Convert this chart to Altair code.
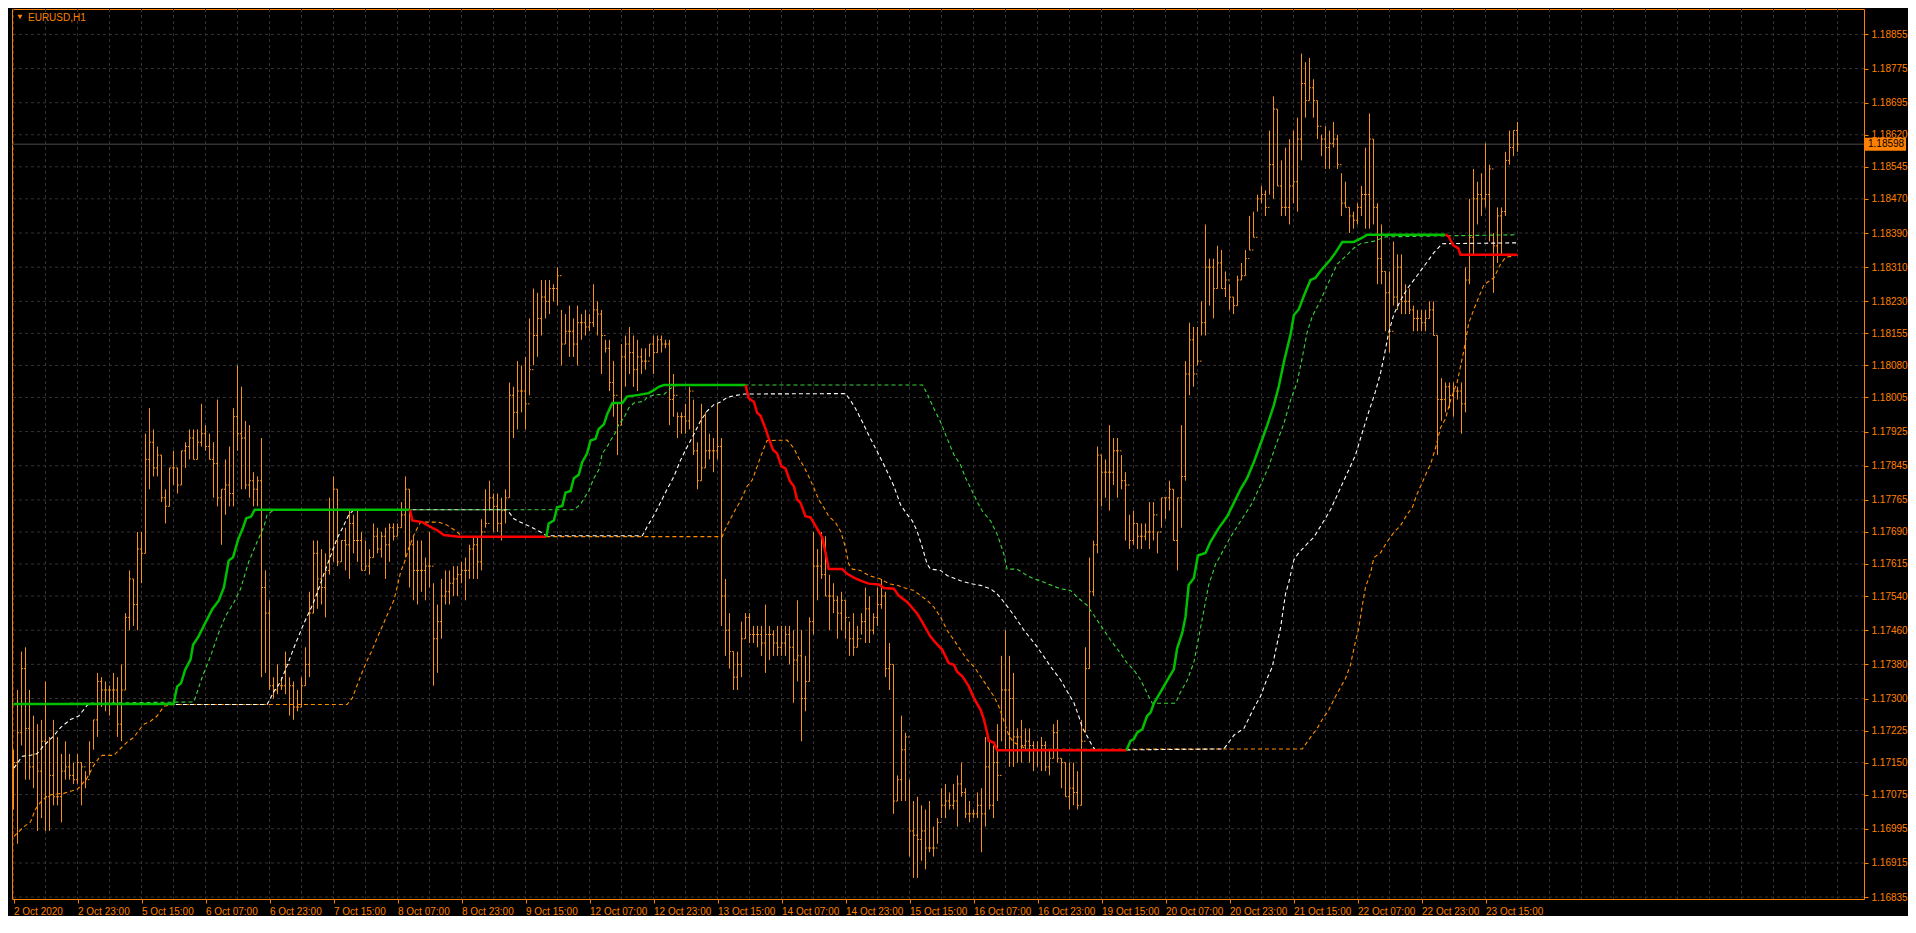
import json
import altair as alt
import pandas as pd

# ---------------- data ----------------
SYMBOL = "EURUSD,H1"
CURRENT_PRICE = 1.18598
FIRST_OPEN = 1.1712

HIGH = [
    1.1718, 1.1732, 1.1741, 1.1742, 1.1732, 1.1726, 1.1724, 1.1725, 1.1734, 1.1721,
    1.1725, 1.1721, 1.1717, 1.1720, 1.1717, 1.1715, 1.1717, 1.1715, 1.1713, 1.1720,
    1.1725, 1.1736, 1.1735, 1.1734, 1.1733, 1.1736, 1.1735, 1.1738, 1.1750, 1.1760,
    1.1758, 1.1769, 1.1769, 1.1792, 1.1798, 1.1793, 1.1789, 1.1787, 1.1779, 1.1784,
    1.1788, 1.1784, 1.1788, 1.1790, 1.1793, 1.1793, 1.1793, 1.1799, 1.1794, 1.1792,
    1.1790, 1.1800, 1.1779, 1.1786, 1.1789, 1.1798, 1.1808, 1.1803, 1.1795, 1.1794,
    1.1783, 1.1782, 1.1791, 1.1760, 1.1753, 1.1735, 1.1738, 1.1735, 1.1741, 1.1735,
    1.1734, 1.1732, 1.1735, 1.1742, 1.1755, 1.1767, 1.1767, 1.1765, 1.1764, 1.1777,
    1.1782, 1.1779, 1.1767, 1.1770, 1.1774, 1.1773, 1.1774, 1.1769, 1.1767, 1.1765,
    1.1771, 1.1770, 1.1769, 1.1770, 1.1771, 1.1771, 1.1771, 1.1776, 1.1782, 1.1779,
    1.1768, 1.1767, 1.1767, 1.1763, 1.1769, 1.1757, 1.1752, 1.1758, 1.1760, 1.1760,
    1.1761, 1.1761, 1.1762, 1.1763, 1.1766, 1.1768, 1.1768, 1.1772, 1.1779, 1.1781,
    1.1778, 1.1778, 1.1777, 1.1779, 1.1804, 1.1803, 1.1809, 1.1808, 1.1810, 1.1819,
    1.1826, 1.1825, 1.1828, 1.1828, 1.1828, 1.1827, 1.1831, 1.1821, 1.1820, 1.1822,
    1.1819, 1.1822, 1.1820, 1.1821, 1.1820, 1.1827, 1.1823, 1.1821, 1.1814, 1.1814,
    1.1809, 1.1799, 1.1813, 1.1815, 1.1817, 1.1815, 1.1814, 1.1812, 1.1812, 1.1813,
    1.1815, 1.1815, 1.1815, 1.1814, 1.1814, 1.1806, 1.1797, 1.1797, 1.1799, 1.1803,
    1.1800, 1.1790, 1.1799, 1.1797, 1.1792, 1.1791, 1.1799, 1.1791, 1.1758, 1.1750,
    1.1741, 1.1741, 1.1748, 1.1750, 1.1750, 1.1747, 1.1747, 1.1747, 1.1752, 1.1747,
    1.1746, 1.1747, 1.1747, 1.1747, 1.1747, 1.1746, 1.1753, 1.1746, 1.1740, 1.1749,
    1.1769, 1.1765, 1.1769, 1.1768, 1.1759, 1.1757, 1.1754, 1.1755, 1.1753, 1.1748,
    1.1750, 1.1747, 1.1750, 1.1756, 1.1754, 1.1750, 1.1756, 1.1758, 1.1755, 1.1743,
    1.1738, 1.1712, 1.1726, 1.1722, 1.1711, 1.1706, 1.1707, 1.1705, 1.1704, 1.1706,
    1.1700, 1.1702, 1.1709, 1.1710, 1.1708, 1.1710, 1.1712, 1.1715, 1.1709, 1.1706,
    1.1704, 1.1708, 1.1709, 1.1721, 1.1720, 1.1719, 1.1724, 1.1740, 1.1746, 1.1740,
    1.1736, 1.1723, 1.1725, 1.1723, 1.1723, 1.1720, 1.1720, 1.1721, 1.1720, 1.1718,
    1.1724, 1.1725, 1.1716, 1.1715, 1.1715, 1.1715, 1.1713, 1.1725, 1.1742, 1.1763,
    1.1767, 1.1789, 1.1787, 1.1786, 1.1794, 1.1791, 1.1791, 1.1787, 1.1783, 1.1773,
    1.1774, 1.1771, 1.1771, 1.1771, 1.1776, 1.1776, 1.1769, 1.1777, 1.1777, 1.1781,
    1.1779, 1.1777, 1.1794, 1.1809, 1.1818, 1.1817, 1.1817, 1.1823, 1.1841, 1.1833,
    1.1833, 1.1836, 1.1835, 1.1830, 1.1827, 1.1824, 1.1829, 1.1832, 1.1835, 1.1843,
    1.1844, 1.1848, 1.1850, 1.1849, 1.1863, 1.1871, 1.1868, 1.1856, 1.1859, 1.1861,
    1.1863, 1.1866, 1.1881, 1.1879, 1.1880, 1.1875, 1.1870, 1.1862, 1.1864, 1.1863,
    1.1865, 1.1862, 1.1853, 1.1851, 1.1845, 1.1844, 1.1846, 1.1850, 1.1859, 1.1867,
    1.1861, 1.1846, 1.1841, 1.1830, 1.1830, 1.1837, 1.1834, 1.1834, 1.1827, 1.1826,
    1.1822, 1.1821, 1.1821, 1.1821, 1.1823, 1.1823, 1.1815, 1.1805, 1.1804, 1.1804,
    1.1804, 1.1803, 1.1804, 1.1831, 1.1847, 1.1854, 1.1851, 1.1853, 1.1860, 1.1855,
    1.1839, 1.1845, 1.1845, 1.1858, 1.1863, 1.1863, 1.1865,
]

LOW = [
    1.1704, 1.1696, 1.1719, 1.1711, 1.1711, 1.1709, 1.1699, 1.1702, 1.1699, 1.1699,
    1.1705, 1.1705, 1.1701, 1.1711, 1.1711, 1.1710, 1.1710, 1.1705, 1.1709, 1.1712,
    1.1718, 1.1721, 1.1728, 1.1727, 1.1726, 1.1729, 1.1721, 1.1720, 1.1732, 1.1746,
    1.1747, 1.1746, 1.1757, 1.1764, 1.1779, 1.1782, 1.1782, 1.1776, 1.1771, 1.1775,
    1.1780, 1.1778, 1.1780, 1.1784, 1.1786, 1.1786, 1.1786, 1.1789, 1.1788, 1.1786,
    1.1777, 1.1775, 1.1766, 1.1773, 1.1775, 1.1775, 1.1788, 1.1779, 1.1779, 1.1777,
    1.1775, 1.1775, 1.1735, 1.1736, 1.1732, 1.1730, 1.1731, 1.1732, 1.1731, 1.1726,
    1.1725, 1.1727, 1.1728, 1.1733, 1.1735, 1.1750, 1.1751, 1.1752, 1.1749, 1.1759,
    1.1762, 1.1761, 1.1762, 1.1760, 1.1758, 1.1764, 1.1762, 1.1760, 1.1760, 1.1759,
    1.1763, 1.1764, 1.1763, 1.1758, 1.1762, 1.1767, 1.1768, 1.1770, 1.1763, 1.1756,
    1.1753, 1.1752, 1.1755, 1.1753, 1.1756, 1.1733, 1.1736, 1.1744, 1.1752, 1.1752,
    1.1754, 1.1754, 1.1757, 1.1753, 1.1758, 1.1758, 1.1758, 1.1760, 1.1770, 1.1774,
    1.1769, 1.1769, 1.1767, 1.1771, 1.1777, 1.1791, 1.1793, 1.1797, 1.1793, 1.1801,
    1.1808, 1.1810, 1.1815, 1.1819, 1.1820, 1.1823, 1.1822, 1.1808, 1.1813, 1.1810,
    1.1810, 1.1808, 1.1814, 1.1815, 1.1816, 1.1817, 1.1815, 1.1806, 1.1811, 1.1802,
    1.1796, 1.1787, 1.1794, 1.1803, 1.1806, 1.1803, 1.1802, 1.1806, 1.1807, 1.1810,
    1.1806, 1.1811, 1.1811, 1.1812, 1.1794, 1.1796, 1.1791, 1.1792, 1.1792, 1.1793,
    1.1787, 1.1779, 1.1781, 1.1784, 1.1786, 1.1783, 1.1786, 1.1747, 1.1740, 1.1737,
    1.1732, 1.1732, 1.1735, 1.1744, 1.1743, 1.1743, 1.1742, 1.1740, 1.1736, 1.1739,
    1.1740, 1.1740, 1.1740, 1.1740, 1.1738, 1.1729, 1.1734, 1.1720, 1.1727, 1.1734,
    1.1745, 1.1753, 1.1758, 1.1754, 1.1746, 1.1750, 1.1744, 1.1746, 1.1744, 1.1740,
    1.1740, 1.1742, 1.1745, 1.1743, 1.1743, 1.1745, 1.1747, 1.1751, 1.1735, 1.1732,
    1.1703, 1.1706, 1.1706, 1.1706, 1.1693, 1.1688, 1.1688, 1.1692, 1.1690, 1.1694,
    1.1693, 1.1696, 1.1702, 1.1702, 1.1704, 1.1704, 1.1700, 1.1707, 1.1702, 1.1701,
    1.1702, 1.1702, 1.1694, 1.1700, 1.1704, 1.1702, 1.1706, 1.1720, 1.1718, 1.1714,
    1.1714, 1.1715, 1.1715, 1.1718, 1.1715, 1.1713, 1.1714, 1.1713, 1.1713, 1.1712,
    1.1716, 1.1715, 1.1709, 1.1707, 1.1704, 1.1705, 1.1704, 1.1705, 1.1722, 1.1737,
    1.1754, 1.1764, 1.1775, 1.1777, 1.1774, 1.1780, 1.1777, 1.1779, 1.1767, 1.1765,
    1.1766, 1.1765, 1.1765, 1.1767, 1.1765, 1.1767, 1.1764, 1.1770, 1.1772, 1.1774,
    1.1767, 1.1760, 1.1770, 1.1781, 1.1801, 1.1803, 1.1808, 1.1815, 1.1815, 1.1822,
    1.1819, 1.1826, 1.1826, 1.1824, 1.1821, 1.1820, 1.1822, 1.1828, 1.1829, 1.1835,
    1.1838, 1.1844, 1.1846, 1.1843, 1.1848, 1.1847, 1.1850, 1.1843, 1.1843, 1.1841,
    1.1846, 1.1844, 1.1856, 1.1866, 1.1870, 1.1866, 1.1861, 1.1857, 1.1854, 1.1854,
    1.1859, 1.1854, 1.1843, 1.1845, 1.1839, 1.1840, 1.1841, 1.1843, 1.1840, 1.1840,
    1.1841, 1.1827, 1.1827, 1.1816, 1.1811, 1.1822, 1.1821, 1.1820, 1.1820, 1.1820,
    1.1816, 1.1816, 1.1816, 1.1816, 1.1819, 1.1815, 1.1787, 1.1795, 1.1797, 1.1798,
    1.1796, 1.1800, 1.1792, 1.1797, 1.1827, 1.1834, 1.1841, 1.1843, 1.1845, 1.1837,
    1.1825, 1.1832, 1.1834, 1.1843, 1.1855, 1.1857, 1.1858,
]

CLOSE = [
    1.1715, 1.1722, 1.1737, 1.1723, 1.1714, 1.1717, 1.1713, 1.1720, 1.1707, 1.1712,
    1.1707, 1.1707, 1.1713, 1.1714, 1.1712, 1.1711, 1.1715, 1.1714, 1.1711, 1.1715,
    1.1725, 1.1734, 1.1732, 1.1732, 1.1732, 1.1732, 1.1724, 1.1732, 1.1749, 1.1758,
    1.1752, 1.1765, 1.1764, 1.1786, 1.1790, 1.1784, 1.1787, 1.1777, 1.1775, 1.1784,
    1.1784, 1.1780, 1.1788, 1.1789, 1.1791, 1.1786, 1.1790, 1.1792, 1.1789, 1.1786,
    1.1785, 1.1777, 1.1779, 1.1780, 1.1778, 1.1796, 1.1792, 1.1791, 1.1780, 1.1781,
    1.1779, 1.1781, 1.1756, 1.1750, 1.1733, 1.1732, 1.1733, 1.1733, 1.1738, 1.1733,
    1.1728, 1.1728, 1.1733, 1.1738, 1.1750, 1.1764, 1.1758, 1.1756, 1.1760, 1.1765,
    1.1779, 1.1762, 1.1767, 1.1766, 1.1771, 1.1767, 1.1767, 1.1760, 1.1761, 1.1763,
    1.1768, 1.1765, 1.1768, 1.1766, 1.1770, 1.1768, 1.1770, 1.1773, 1.1779, 1.1766,
    1.1760, 1.1760, 1.1760, 1.1761, 1.1761, 1.1744, 1.1748, 1.1754, 1.1755, 1.1757,
    1.1758, 1.1759, 1.1760, 1.1760, 1.1765, 1.1766, 1.1762, 1.1769, 1.1771, 1.1777,
    1.1775, 1.1771, 1.1774, 1.1777, 1.1801, 1.1797, 1.1802, 1.1802, 1.1799, 1.1807,
    1.1815, 1.1819, 1.1824, 1.1823, 1.1826, 1.1826, 1.1829, 1.1813, 1.1816, 1.1816,
    1.1813, 1.1818, 1.1818, 1.1817, 1.1818, 1.1821, 1.1820, 1.1815, 1.1812, 1.1804,
    1.1801, 1.1794, 1.1810, 1.1813, 1.1811, 1.1807, 1.1810, 1.1809, 1.1809, 1.1813,
    1.1811, 1.1814, 1.1813, 1.1813, 1.1800, 1.1801, 1.1796, 1.1796, 1.1795, 1.1802,
    1.1788, 1.1781, 1.1784, 1.1788, 1.1788, 1.1788, 1.1789, 1.1754, 1.1746, 1.1741,
    1.1735, 1.1738, 1.1744, 1.1749, 1.1745, 1.1745, 1.1745, 1.1743, 1.1745, 1.1745,
    1.1743, 1.1742, 1.1743, 1.1745, 1.1742, 1.1739, 1.1740, 1.1730, 1.1734, 1.1748,
    1.1761, 1.1761, 1.1759, 1.1754, 1.1754, 1.1753, 1.1750, 1.1753, 1.1749, 1.1744,
    1.1742, 1.1744, 1.1748, 1.1751, 1.1746, 1.1749, 1.1752, 1.1754, 1.1737, 1.1738,
    1.1706, 1.1711, 1.1718, 1.1721, 1.1699, 1.1698, 1.1697, 1.1699, 1.1695, 1.1695,
    1.1695, 1.1701, 1.1705, 1.1706, 1.1705, 1.1706, 1.1710, 1.1708, 1.1703, 1.1703,
    1.1703, 1.1705, 1.1703, 1.1714, 1.1705, 1.1715, 1.1712, 1.1732, 1.1732, 1.1730,
    1.1721, 1.1721, 1.1719, 1.1720, 1.1719, 1.1718, 1.1718, 1.1719, 1.1714, 1.1716,
    1.1722, 1.1716, 1.1715, 1.1707, 1.1709, 1.1708, 1.1705, 1.1720, 1.1737, 1.1755,
    1.1766, 1.1787, 1.1783, 1.1783, 1.1783, 1.1788, 1.1788, 1.1781, 1.1780, 1.1767,
    1.1771, 1.1768, 1.1768, 1.1769, 1.1769, 1.1773, 1.1769, 1.1777, 1.1777, 1.1779,
    1.1767, 1.1777, 1.1782, 1.1806, 1.1814, 1.1806, 1.1809, 1.1818, 1.1831, 1.1831,
    1.1826, 1.1832, 1.1826, 1.1828, 1.1824, 1.1822, 1.1828, 1.1829, 1.1833, 1.1835,
    1.1838, 1.1847, 1.1848, 1.1845, 1.1855, 1.1868, 1.1850, 1.1845, 1.1845, 1.1850,
    1.1851, 1.1861, 1.1874, 1.1870, 1.1873, 1.1870, 1.1864, 1.1861, 1.1859, 1.1860,
    1.1861, 1.1855, 1.1846, 1.1845, 1.1843, 1.1842, 1.1845, 1.1848, 1.1848, 1.1861,
    1.1845, 1.1833, 1.1830, 1.1825, 1.1816, 1.1824, 1.1831, 1.1823, 1.1823, 1.1821,
    1.1819, 1.1819, 1.1818, 1.1819, 1.1821, 1.1815, 1.1800, 1.1800, 1.1803, 1.1801,
    1.1802, 1.1802, 1.1799, 1.1828, 1.1838, 1.1847, 1.1848, 1.1847, 1.1848, 1.1854,
    1.1836, 1.1843, 1.1844, 1.1856, 1.1859, 1.1863, 1.18598,
]

DATE_LABELS = [
    "2 Oct 2020", "2 Oct 23:00", "5 Oct 15:00", "6 Oct 07:00", "6 Oct 23:00",
    "7 Oct 15:00", "8 Oct 07:00", "8 Oct 23:00", "9 Oct 15:00", "12 Oct 07:00",
    "12 Oct 23:00", "13 Oct 15:00", "14 Oct 07:00", "14 Oct 23:00", "15 Oct 15:00",
    "16 Oct 07:00", "16 Oct 23:00", "19 Oct 15:00", "20 Oct 07:00", "20 Oct 23:00",
    "21 Oct 15:00", "22 Oct 07:00", "22 Oct 23:00", "23 Oct 15:00",
]
BARS_PER_LABEL = 16

PRICE_TICKS = [
    1.16835, 1.16915, 1.16995, 1.17075, 1.17150, 1.17225, 1.17300, 1.17380, 1.17460,
    1.17540, 1.17615, 1.17690, 1.17765, 1.17845, 1.17925, 1.18005, 1.18080, 1.18155,
    1.18230, 1.18310, 1.18390, 1.18470, 1.18545, 1.18620, 1.18695, 1.18775, 1.18855,
]

# thick trailing line: (trend, [(bar, price), ...])
TREND_SEGMENTS = [
    ("up", [(0, 1.17287), (40, 1.17287), (40.9, 1.17328), (41.9, 1.17336), (42.9, 1.17367),
            (44.25, 1.17391), (44.9, 1.17426), (46.3, 1.17446), (48, 1.17478), (49.7, 1.17509),
            (51.3, 1.17529), (52.6, 1.17560), (53.8, 1.17623), (54.9, 1.17631), (56.1, 1.17671),
            (57.3, 1.17698), (58.2, 1.17722), (59.4, 1.17726), (60.3, 1.17742), (99.1, 1.17742)]),
    ("down", [(99.1, 1.17742), (99.7, 1.17717), (102.2, 1.17713), (104.25, 1.17702),
              (105.9, 1.17694), (107.6, 1.17683), (111.3, 1.17679), (133.2, 1.17679)]),
    ("up", [(133.2, 1.17679), (133.8, 1.17710), (135.1, 1.17717), (135.9, 1.17748), (137.2, 1.17751),
            (138, 1.17782), (139.25, 1.17786), (140.1, 1.17816), (141.3, 1.17824), (142.2, 1.17854),
            (143.4, 1.17874), (144.25, 1.17904), (145.5, 1.17908), (146.3, 1.17931), (147.6, 1.17942),
            (148.4, 1.17965), (149.7, 1.17992), (152.2, 1.17992), (153.4, 1.18007), (156.3, 1.18011),
            (158.8, 1.18015), (160.1, 1.18022), (161.3, 1.18030), (162.6, 1.18034), (183.0, 1.18034)]),
    ("down", [(183.0, 1.18034), (183.8, 1.18003), (185.1, 1.17995), (185.9, 1.17969), (186.75, 1.17962),
              (188, 1.17932), (188.8, 1.17909), (189.9, 1.17882), (190.9, 1.17874), (192, 1.17843),
              (193, 1.17839), (194.1, 1.17809), (195.1, 1.17797), (195.9, 1.17766), (196.75, 1.17758),
              (198, 1.17727), (199.25, 1.17724), (200.5, 1.17704), (202.2, 1.17677), (203.4, 1.17623),
              (203.8, 1.17603), (207.2, 1.17603), (208.4, 1.17592), (210.1, 1.17583), (211.75, 1.17576),
              (213.8, 1.17569), (216.3, 1.17567), (217.6, 1.17559), (220.1, 1.17557), (221.3, 1.17541),
              (223.4, 1.17526), (225.9, 1.17499), (227.2, 1.17479), (229.25, 1.17445), (230.5, 1.17431),
              (232.2, 1.17414), (233.8, 1.17383), (235.1, 1.17379), (235.9, 1.17363), (237.2, 1.17352),
              (238.8, 1.17329), (240.1, 1.17301), (241.75, 1.17274), (242.6, 1.17251), (243.4, 1.17220),
              (243.8, 1.17201), (245.1, 1.17197), (245.9, 1.17179), (278.25, 1.17179)]),
    ("up", [(278.25, 1.17179), (279.25, 1.17201), (280.1, 1.17205), (280.9, 1.17220), (282.2, 1.17228),
            (283.4, 1.17259), (284.25, 1.17267), (285.1, 1.17289), (286.75, 1.17315), (288.4, 1.17342),
            (290.1, 1.17369), (290.9, 1.17417), (292.2, 1.17454), (293, 1.17491), (293.8, 1.17566),
            (295.1, 1.17582), (296.1, 1.17635), (298, 1.17641), (299.25, 1.17667), (301.3, 1.17699),
            (303.4, 1.17726), (305.1, 1.17758), (306.75, 1.17790), (308.4, 1.17816), (310.1, 1.17854),
            (311.75, 1.17896), (313.4, 1.17939), (315.1, 1.17987), (316.3, 1.18030), (317.6, 1.18088),
            (319.25, 1.18152), (320.1, 1.18198), (321.3, 1.18211), (322.6, 1.18243), (324.25, 1.18280),
            (325.5, 1.18285), (326.75, 1.18301), (329.25, 1.18328), (330.5, 1.18344), (332.2, 1.18369),
            (335.1, 1.18369), (337.2, 1.18379), (338.4, 1.18386), (358, 1.18386)]),
    ("down", [(358, 1.18386), (358.8, 1.18382), (359.25, 1.18373), (359.9, 1.18362), (360.5, 1.18358),
              (361.2, 1.18354), (361.75, 1.18339), (376, 1.18339)]),
]

GREEN_DASH = [
    (0, 1.17287), (45.1, 1.17292), (47.2, 1.17351), (49.25, 1.17399), (51.3, 1.17454), (53, 1.17493),
    (55.1, 1.17525), (56.75, 1.17556), (58.8, 1.17620), (60.9, 1.17667), (62.6, 1.17702), (63.4, 1.17730),
    (65.1, 1.17742), (140.1, 1.17742), (141.75, 1.17755), (143.8, 1.17786), (145.1, 1.17816),
    (146.3, 1.17835), (147.2, 1.17874), (148.4, 1.17889), (149.25, 1.17904), (150.5, 1.17923),
    (151.3, 1.17942), (152.6, 1.17957), (153.8, 1.17980), (155.1, 1.17992), (157.6, 1.17996),
    (158.4, 1.18005), (160.1, 1.18011), (162.6, 1.18012), (164.25, 1.18026), (165.9, 1.18034),
    (227.3, 1.18034), (228.4, 1.18014), (230.1, 1.17979), (231.75, 1.17948), (233.4, 1.17909),
    (235.1, 1.17871), (236.75, 1.17847), (238, 1.17817), (239.7, 1.17785), (241.3, 1.17754),
    (242.2, 1.17739), (244.25, 1.17716), (245.9, 1.17685), (247.6, 1.17638), (248.4, 1.17603),
    (250.9, 1.17603), (253.4, 1.17588), (255.1, 1.17580), (256.75, 1.17576), (258.4, 1.17569),
    (261.75, 1.17557), (264.25, 1.17553), (265.9, 1.17538), (268.4, 1.17518), (270.1, 1.17495),
    (272.6, 1.17460), (274.25, 1.17437), (276.75, 1.17406), (278.4, 1.17383), (280.1, 1.17367),
    (281.75, 1.17344), (283.8, 1.17305), (284.7, 1.17289), (290.5, 1.17289), (291.75, 1.17315),
    (293.4, 1.17342), (295.1, 1.17385), (296.3, 1.17443), (297.6, 1.17507), (298.8, 1.17566),
    (300.5, 1.17614), (301.75, 1.17635), (304.25, 1.17678), (306.75, 1.17715), (309.7, 1.17758),
    (311.75, 1.17800), (313.8, 1.17843), (315.5, 1.17891), (317.6, 1.17944), (319.25, 1.17998),
    (320.9, 1.18040), (322.2, 1.18099), (323.4, 1.18157), (324.7, 1.18195), (326.75, 1.18232),
    (328.8, 1.18275), (330.9, 1.18317), (333.4, 1.18339), (335.1, 1.18355), (336.75, 1.18365),
    (340.1, 1.18371), (343, 1.18381), (376, 1.18386),
]

WHITE_DASH = [
    (0.1, 1.17137), (2.2, 1.17165), (4.25, 1.17167), (5.9, 1.17171), (7.6, 1.17190), (10.1, 1.17213),
    (11.75, 1.17232), (14.25, 1.17251), (16.3, 1.17259), (18.4, 1.17284), (18.8, 1.17286),
    (63.4, 1.17286), (65.1, 1.17316), (66.75, 1.17339), (68.4, 1.17377), (70.1, 1.17419),
    (72.6, 1.17476), (74.7, 1.17518), (75.9, 1.17547), (77.2, 1.17581), (78.4, 1.17612),
    (79.7, 1.17644), (80.9, 1.17675), (82.6, 1.17706), (83.8, 1.17730), (85.1, 1.17742),
    (123.4, 1.17742), (125.1, 1.17721), (126.75, 1.17713), (128.4, 1.17706), (130.1, 1.17698),
    (131.75, 1.17690), (133.2, 1.17681), (157.2, 1.17681), (158.4, 1.17702), (160.1, 1.17729),
    (161.75, 1.17759), (163.4, 1.17790), (165.1, 1.17820), (166.75, 1.17858), (168.4, 1.17889),
    (170.1, 1.17919), (171.75, 1.17950), (173.4, 1.17973), (175.1, 1.17988), (176.75, 1.17994),
    (178.4, 1.18005), (180.1, 1.18009), (182.6, 1.18013), (208, 1.18014), (209.25, 1.17998),
    (210.5, 1.17979), (212.2, 1.17948), (213.8, 1.17917), (215.5, 1.17886), (217.2, 1.17855),
    (218.8, 1.17824), (220.1, 1.17797), (221.75, 1.17754), (223.4, 1.17731), (224.7, 1.17716),
    (225.9, 1.17692), (227.2, 1.17654), (228.4, 1.17615), (229.25, 1.17603), (231.75, 1.17600),
    (233.4, 1.17588), (236.75, 1.17576), (239.25, 1.17569), (241.75, 1.17565), (244.25, 1.17557),
    (245.9, 1.17545), (247.6, 1.17526), (250.1, 1.17495), (252.6, 1.17460), (254.25, 1.17441),
    (255.9, 1.17421), (257.6, 1.17398), (259.25, 1.17375), (261.75, 1.17344), (263.4, 1.17317),
    (265.1, 1.17290), (266.3, 1.17259), (267.2, 1.17232), (268.4, 1.17212), (269.7, 1.17189),
    (270.5, 1.17179), (302.6, 1.17182), (305.1, 1.17214), (307.6, 1.17230), (310.1, 1.17278),
    (311.75, 1.17305), (313.4, 1.17347), (314.7, 1.17374), (315.5, 1.17411), (316.75, 1.17465),
    (318, 1.17545), (318.8, 1.17571), (320.1, 1.17625), (321.3, 1.17641), (323.4, 1.17662),
    (325.1, 1.17678), (327.2, 1.17710), (329.25, 1.17742), (331.3, 1.17784), (333.4, 1.17827),
    (335.5, 1.17870), (337.2, 1.17923), (338.8, 1.17971), (340.5, 1.18019), (341.75, 1.18062),
    (342.6, 1.18099), (343.8, 1.18157), (345.1, 1.18200), (346.75, 1.18232), (348.4, 1.18259),
    (350.5, 1.18285), (352.6, 1.18312), (355.1, 1.18344), (357.2, 1.18365), (376, 1.18367),
]

ORANGE_DASH = [
    (0.1, 1.16977), (2.6, 1.17000), (4.25, 1.17011), (5.5, 1.17041), (6.75, 1.17057), (8.4, 1.17072),
    (10.1, 1.17076), (12.6, 1.17078), (14.25, 1.17083), (15.9, 1.17087), (16.75, 1.17095),
    (18.4, 1.17114), (20.1, 1.17144), (21.3, 1.17160), (22.2, 1.17167), (25.1, 1.17167),
    (26.75, 1.17183), (28.4, 1.17198), (30.1, 1.17209), (31.3, 1.17225), (32.6, 1.17240),
    (34.25, 1.17247), (35.9, 1.17259), (37.6, 1.17282), (39.8, 1.17286), (83.4, 1.17286),
    (84.7, 1.17301), (85.9, 1.17331), (87.2, 1.17362), (88.4, 1.17389), (89.6, 1.17412),
    (90.9, 1.17442), (92.2, 1.17469), (93.4, 1.17495), (95.1, 1.17530), (95.9, 1.17561),
    (96.75, 1.17595), (98, 1.17626), (98.8, 1.17652), (100.1, 1.17683), (100.9, 1.17698),
    (101.75, 1.17713), (106.3, 1.17713), (108.4, 1.17706), (110.9, 1.17690), (112.2, 1.17679),
    (177.2, 1.17679), (177.6, 1.17690), (178.8, 1.17713), (180.1, 1.17736), (181.75, 1.17763),
    (183.4, 1.17797), (184.7, 1.17812), (185.9, 1.17843), (187.2, 1.17877), (188.4, 1.17904),
    (193.4, 1.17905), (195.1, 1.17886), (196.3, 1.17863), (197.6, 1.17843), (198.8, 1.17820),
    (200.1, 1.17793), (201.3, 1.17766), (202.6, 1.17747), (203.8, 1.17727), (205.5, 1.17712),
    (206.75, 1.17692), (208, 1.17654), (208.8, 1.17615), (209.7, 1.17603), (211.75, 1.17600),
    (213.8, 1.17588), (216.75, 1.17580), (218.8, 1.17569), (220.9, 1.17565), (223.4, 1.17557),
    (225.1, 1.17553), (226.75, 1.17541), (228.4, 1.17530), (230.1, 1.17514), (231.75, 1.17491),
    (233.4, 1.17460), (235.1, 1.17437), (236.75, 1.17414), (238.4, 1.17391), (240.1, 1.17375),
    (241.75, 1.17352), (243.4, 1.17329), (245.1, 1.17305), (246.3, 1.17282), (247.2, 1.17259),
    (248, 1.17236), (248.9, 1.17212), (250.1, 1.17197), (251.75, 1.17189), (253.4, 1.17181),
    (322.2, 1.17182), (324.25, 1.17209), (325.9, 1.17230), (327.2, 1.17251), (328.8, 1.17273),
    (330.5, 1.17305), (331.75, 1.17326), (333, 1.17347), (334.25, 1.17379), (335.1, 1.17417),
    (336.3, 1.17465), (337.2, 1.17518), (338, 1.17561), (339.25, 1.17593), (340.1, 1.17630),
    (341.75, 1.17641), (343.4, 1.17667), (345.1, 1.17689), (346.75, 1.17705), (348.4, 1.17731),
    (349.7, 1.17747), (350.9, 1.17779), (352.2, 1.17806), (353.4, 1.17832), (354.25, 1.17848),
    (355.5, 1.17886), (356.75, 1.17934), (358, 1.17955), (359.25, 1.17998), (360.9, 1.18040),
    (362.6, 1.18115), (363.8, 1.18179), (365.5, 1.18221), (367.6, 1.18269), (370.1, 1.18285),
    (371.75, 1.18317), (373, 1.18333), (376, 1.18338),
]

# ---------------- styling ----------------
W, H = 1852, 890
FONT = "Tahoma, 'Liberation Sans', Arial, sans-serif"
ORANGE = "#ff8000"
BAR_COLOR = "#f7931a"
GRID = "#333333"
GREEN = "#00c000"
RED = "#ff0000"
GREEN_THIN = "#3ad43a"
WHITE = "#ffffff"
ORANGE_THIN = "#ff8c00"
PRICE_LINE = "#4a4a4a"
X_DOMAIN = [-0.375, -0.375 + W / 4.0]          # 4 px per hourly bar
Y_DOMAIN = [1.168306, 1.189145]

n = len(CLOSE)
assert len(HIGH) == n and len(LOW) == n
bars = pd.DataFrame({
    "i": list(range(n)),
    "h": HIGH,
    "l": LOW,
    "o": [FIRST_OPEN] + CLOSE[:-1],
    "c": CLOSE,
})
bars["xo"] = bars["i"] - 0.375
bars["xc"] = bars["i"] + 0.375

xscale = alt.Scale(domain=X_DOMAIN, nice=False, zero=False)
yscale = alt.Scale(domain=Y_DOMAIN, nice=False, zero=False)

x_axis = alt.Axis(
    values=list(range(0, BARS_PER_LABEL * len(DATE_LABELS), BARS_PER_LABEL)),
    labelExpr=json.dumps(DATE_LABELS) + "[round(datum.value / %d)]" % BARS_PER_LABEL,
    labelAlign="left", labelBaseline="top", labelPadding=3, labelOverlap=False,
    tickSize=4, tickColor=ORANGE, tickWidth=1, labelColor=ORANGE, labelFont=FONT,
    labelFontSize=10, domain=False, grid=False, title=None,
)
y_axis = alt.Axis(
    orient="right", values=PRICE_TICKS, format=".5f", labelPadding=3, labelOverlap=False,
    tickSize=4, tickColor=ORANGE, tickWidth=1, labelColor=ORANGE, labelFont=FONT,
    labelFontSize=10, domain=False, grid=False, title=None,
)


def X(field):
    return alt.X(field, type="quantitative", scale=xscale, axis=x_axis)


def Y(field):
    return alt.Y(field, type="quantitative", scale=yscale, axis=y_axis)


def line_df(points):
    return pd.DataFrame({"x": [p[0] for p in points], "y": [p[1] for p in points],
                         "k": list(range(len(points)))})


vgrid = alt.Chart(pd.DataFrame({"g": list(range(0, int(X_DOMAIN[1]) + 1, 8))})).mark_rule(
    color=GRID, strokeWidth=1, strokeDash=[3, 3]).encode(x=X("g"))
hgrid = alt.Chart(pd.DataFrame({"p": PRICE_TICKS})).mark_rule(
    color=GRID, strokeWidth=1, strokeDash=[3, 3]).encode(y=Y("p"))
price_line = alt.Chart(pd.DataFrame({"p": [CURRENT_PRICE]})).mark_rule(
    color=PRICE_LINE, strokeWidth=1).encode(y=Y("p"))

bar_rules = alt.Chart(bars).mark_rule(color=BAR_COLOR, strokeWidth=1).encode(
    x=X("i"), y=Y("l"), y2=alt.Y2("h"))
open_ticks = alt.Chart(bars).mark_rule(color=BAR_COLOR, strokeWidth=1).encode(
    x=X("xo"), x2=alt.X2("i"), y=Y("o"))
close_ticks = alt.Chart(bars).mark_rule(color=BAR_COLOR, strokeWidth=1).encode(
    x=X("i"), x2=alt.X2("xc"), y=Y("c"))


def dashed(points, color):
    return alt.Chart(line_df(points)).mark_line(
        color=color, strokeWidth=1.1, strokeDash=[4, 3]).encode(
        x=X("x"), y=Y("y"), order="k:Q")


orange_line = dashed(ORANGE_DASH, ORANGE_THIN)
white_line = dashed(WHITE_DASH, WHITE)
green_line = dashed(GREEN_DASH, GREEN_THIN)

trend_rows = []
for s, (trend, pts) in enumerate(TREND_SEGMENTS):
    for k, (bx, py) in enumerate(pts):
        trend_rows.append({"seg": s, "trend": trend, "x": bx, "y": py, "k": k})
trend_line = alt.Chart(pd.DataFrame(trend_rows)).mark_line(strokeWidth=2.5).encode(
    x=X("x"), y=Y("y"),
    color=alt.Color("trend:N", scale=alt.Scale(domain=["up", "down"], range=[GREEN, RED]),
                    legend=None),
    detail="seg:N", order="k:Q")

price_df = pd.DataFrame({"p": [CURRENT_PRICE], "t": ["%.5f" % CURRENT_PRICE]})
BOX_PATH = "M-1,-0.317L1,-0.317L1,0.317L-1,0.317Z"
price_box = alt.Chart(price_df).mark_point(
    shape=BOX_PATH, filled=True, size=41 * 41, color=ORANGE, opacity=1, strokeWidth=0).encode(
    x=alt.value(W + 21.5), y=Y("p"))
price_text = alt.Chart(price_df).mark_text(
    align="left", baseline="middle", color="#000000", font=FONT, fontSize=10).encode(
    x=alt.value(W + 4), y=Y("p"), text="t:N")

title_df = pd.DataFrame({"t": [SYMBOL]})
title_text = alt.Chart(title_df).mark_text(
    align="left", baseline="middle", color=ORANGE, font=FONT, fontSize=10).encode(
    x=alt.value(16), y=alt.value(9), text="t:N")
title_tri = alt.Chart(title_df).mark_point(
    shape="triangle-down", filled=True, size=26, color=ORANGE, opacity=1).encode(
    x=alt.value(8), y=alt.value(8))

chart = alt.layer(
    vgrid, hgrid, price_line, bar_rules, open_ticks, close_ticks,
    orange_line, white_line, green_line, trend_line,
    price_box, price_text, title_tri, title_text,
).properties(width=W, height=H, padding=0).configure(
    background="#000000"
).configure_view(stroke=ORANGE, strokeWidth=1, fill="#000000")

chart.save("out.html", embed_options={"renderer": "svg", "actions": False})
